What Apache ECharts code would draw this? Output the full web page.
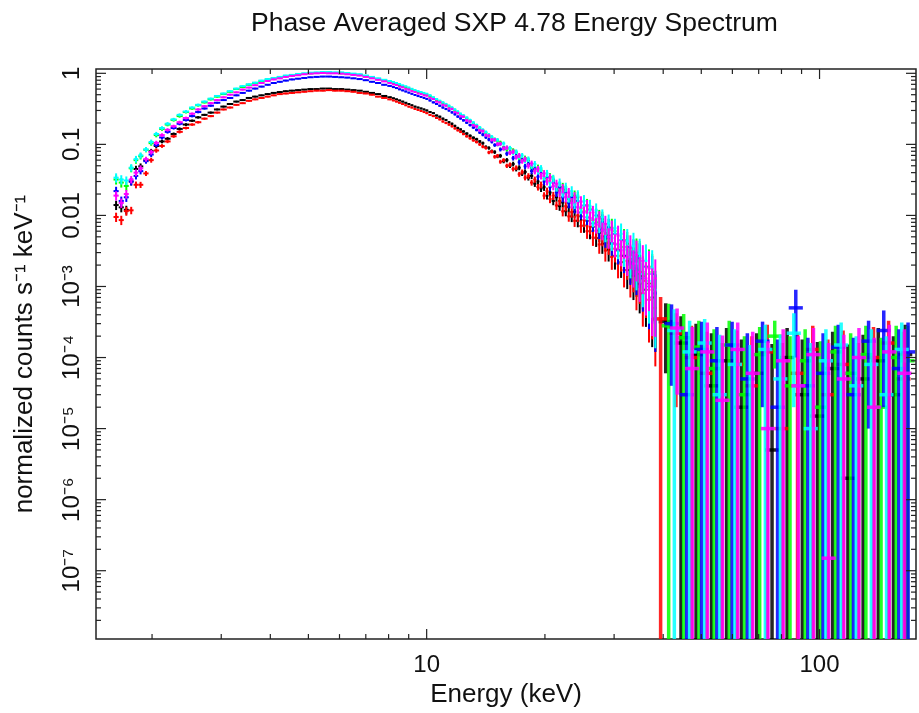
<!DOCTYPE html>
<html>
<head>
<meta charset="utf-8">
<script src="https://cdn.jsdelivr.net/npm/echarts@6/dist/echarts.min.js"></script>
<style>
html, body { margin: 0; padding: 0; background: #fff; }
#main { width: 919px; height: 713px; }
</style>
</head>
<body>
<div id="main"></div>
<script>
// bin centres (keV) for the bright part of the spectrum, shared by all six data groups
var energy = [1.62, 1.67, 1.72, 1.77, 1.82, 1.87, 1.93, 1.99, 2.05, 2.12,
  2.19, 2.27, 2.35, 2.44, 2.53, 2.62, 2.72, 2.82, 2.93, 3.04,
  3.16, 3.28, 3.40, 3.53, 3.66, 3.80, 3.94, 4.08, 4.23, 4.38,
  4.54, 4.71, 4.88, 5.06, 5.25, 5.44, 5.64, 5.85, 6.06, 6.28,
  6.51, 6.75, 7.00, 7.26, 7.52, 7.80,
  8.08, 8.23, 8.38, 8.53, 8.69, 8.85, 9.01, 9.17, 9.34, 9.51,
  9.68, 9.85, 10.0, 10.2, 10.4, 10.6, 10.8, 11.0, 11.2, 11.4,
  11.6, 11.8, 12.0, 12.2, 12.4, 12.65, 12.9, 13.15, 13.4, 13.65,
  13.9, 14.15, 14.4, 14.65, 14.9, 15.15, 15.4, 15.7, 16.0, 16.3,
  16.6, 16.9, 17.2, 17.5, 17.8, 18.15, 18.5, 18.85, 19.2, 19.55,
  19.9, 20.25, 20.6, 21.0, 21.4, 21.8, 22.2, 22.6, 23.0, 23.4,
  23.8, 24.25, 24.7, 25.15, 25.6, 26.05, 26.5, 27.0, 27.5, 28.0,
  28.5, 29.05, 29.6, 30.15, 30.7, 31.25, 31.8, 32.4, 33.0, 33.6,
  34.2, 34.85, 35.5, 36.15, 36.8, 37.5, 38.2];

// fractional 1-sigma error per bin
var relErr = [0.15, 0.15, 0.14, 0.12, 0.11, 0.10, 0.08, 0.08, 0.07, 0.06,
  0.055, 0.05, 0.05, 0.045, 0.04, 0.04, 0.035, 0.035, 0.03, 0.03,
  0.03, 0.028, 0.028, 0.026, 0.026, 0.025, 0.025, 0.025, 0.025, 0.025,
  0.025, 0.02, 0.02, 0.02, 0.02, 0.02, 0.02, 0.02, 0.02, 0.02,
  0.02, 0.02, 0.02, 0.02, 0.02, 0.02,
  0.026, 0.026, 0.026, 0.026, 0.026, 0.026, 0.026, 0.026, 0.026, 0.026,
  0.028, 0.028, 0.03, 0.03, 0.032, 0.032, 0.034, 0.034, 0.036, 0.036,
  0.038, 0.038, 0.04, 0.04, 0.042, 0.042, 0.045, 0.045, 0.048, 0.048,
  0.052, 0.052, 0.056, 0.056, 0.06, 0.06, 0.065, 0.065, 0.07, 0.07,
  0.075, 0.075, 0.08, 0.08, 0.085, 0.09, 0.095, 0.1, 0.105, 0.11,
  0.115, 0.12, 0.125, 0.13, 0.135, 0.14, 0.15, 0.155, 0.16, 0.17,
  0.18, 0.19, 0.2, 0.21, 0.22, 0.23, 0.24, 0.25, 0.26, 0.28,
  0.3, 0.32, 0.34, 0.36, 0.38, 0.4, 0.43, 0.46, 0.5, 0.54,
  0.58, 0.62, 0.66, 0.7, 0.75, 0.8, 0.85];

var blackVals = [0.014, 0.013, 0.012, 0.030, 0.045, 0.049, 0.060, 0.080, 0.095, 0.11,
  0.12, 0.14, 0.165, 0.19, 0.215, 0.24, 0.26, 0.28, 0.31, 0.34,
  0.37, 0.40, 0.42, 0.45, 0.47, 0.49, 0.51, 0.53, 0.545, 0.56,
  0.57, 0.58, 0.59, 0.60, 0.60, 0.61, 0.61, 0.60, 0.60, 0.59,
  0.58, 0.57, 0.55, 0.53, 0.51, 0.48,
  0.46, 0.445, 0.43, 0.415, 0.40, 0.385, 0.37, 0.355, 0.34, 0.33,
  0.32, 0.31, 0.30, 0.285, 0.275, 0.255, 0.245, 0.23, 0.22, 0.205,
  0.195, 0.182, 0.17, 0.162, 0.152, 0.142, 0.132, 0.124, 0.118, 0.11,
  0.104, 0.092, 0.089, 0.080, 0.078, 0.068, 0.069, 0.058, 0.060, 0.050,
  0.053, 0.045, 0.047, 0.039, 0.041, 0.034, 0.036, 0.028, 0.030, 0.024,
  0.025, 0.019, 0.021, 0.016, 0.018, 0.0135, 0.0152, 0.0115, 0.0131, 0.0097,
  0.0113, 0.0084, 0.0097, 0.0072, 0.0084, 0.0060, 0.0069, 0.0048, 0.0057, 0.0040,
  0.0047, 0.0033, 0.0040, 0.0027, 0.0032, 0.0022, 0.0027, 0.0017, 0.0022, 0.0014,
  0.0017, 0.0011, 0.0014, 0.0009, 0.0011, 0.0007, 0.0008];

var redVals = [0.0095, 0.0086, 0.0115, 0.0118, 0.027, 0.027, 0.039, 0.060, 0.082, 0.095,
  0.11, 0.13, 0.15, 0.17, 0.19, 0.205, 0.23, 0.25, 0.28, 0.31,
  0.33, 0.36, 0.38, 0.41, 0.43, 0.45, 0.47, 0.49, 0.51, 0.52,
  0.53, 0.54, 0.55, 0.56, 0.57, 0.57, 0.58, 0.57, 0.57, 0.56,
  0.55, 0.53, 0.52, 0.50, 0.47, 0.45,
  0.43, 0.415, 0.40, 0.385, 0.37, 0.355, 0.34, 0.33, 0.315, 0.305,
  0.295, 0.285, 0.275, 0.26, 0.25, 0.235, 0.225, 0.21, 0.20, 0.19,
  0.18, 0.168, 0.158, 0.15, 0.14, 0.13, 0.122, 0.114, 0.108, 0.10,
  0.093, 0.089, 0.077, 0.079, 0.067, 0.069, 0.057, 0.060, 0.050, 0.052,
  0.045, 0.047, 0.038, 0.041, 0.034, 0.036, 0.029, 0.032, 0.025, 0.027,
  0.019, 0.022, 0.017, 0.019, 0.0138, 0.0160, 0.0114, 0.0135, 0.0097, 0.0112,
  0.0084, 0.0100, 0.0071, 0.0086, 0.0060, 0.0070, 0.0049, 0.0061, 0.0039, 0.0051,
  0.0032, 0.0041, 0.0026, 0.0034, 0.0021, 0.0027, 0.0017, 0.0023, 0.0014, 0.0018,
  0.0011, 0.0015, 0.0008, 0.0012, 0.00065, 0.0009, 0.0005];

var greenVals = [0.032, 0.029, 0.026, 0.046, 0.060, 0.068, 0.084, 0.104, 0.135, 0.165,
  0.19, 0.22, 0.25, 0.285, 0.32, 0.355, 0.39, 0.43, 0.47, 0.51,
  0.55, 0.60, 0.64, 0.69, 0.73, 0.77, 0.81, 0.85, 0.88, 0.91,
  0.94, 0.96, 0.98, 1.0, 1.01, 1.02, 1.02, 1.01, 1.0, 0.99,
  0.97, 0.95, 0.91, 0.87, 0.83, 0.79,
  0.76, 0.73, 0.71, 0.68, 0.655, 0.635, 0.61, 0.59, 0.565, 0.545,
  0.53, 0.515, 0.50, 0.475, 0.45, 0.42, 0.40, 0.38, 0.36, 0.34,
  0.322, 0.30, 0.282, 0.265, 0.25, 0.23, 0.213, 0.198, 0.182, 0.168,
  0.156, 0.145, 0.133, 0.125, 0.117, 0.113, 0.106, 0.090, 0.085, 0.088,
  0.082, 0.077, 0.064, 0.060, 0.064, 0.060, 0.047, 0.044, 0.047, 0.043,
  0.033, 0.031, 0.035, 0.032, 0.024, 0.022, 0.025, 0.023, 0.017, 0.016,
  0.019, 0.018, 0.0125, 0.0115, 0.014, 0.0125, 0.0086, 0.0080, 0.0095, 0.0088,
  0.0058, 0.0053, 0.0067, 0.0060, 0.0039, 0.0036, 0.0045, 0.0040, 0.0025, 0.0023,
  0.0030, 0.0027, 0.0016, 0.0015, 0.0019, 0.0016, 0.0009];

var blueVals = [0.022, 0.016, 0.018, 0.030, 0.036, 0.042, 0.058, 0.072, 0.098, 0.125,
  0.15, 0.17, 0.195, 0.22, 0.25, 0.285, 0.32, 0.35, 0.385, 0.42,
  0.45, 0.49, 0.53, 0.57, 0.61, 0.65, 0.69, 0.73, 0.76, 0.79,
  0.82, 0.84, 0.86, 0.88, 0.89, 0.90, 0.90, 0.89, 0.88, 0.87,
  0.85, 0.83, 0.80, 0.76, 0.73, 0.69,
  0.665, 0.64, 0.62, 0.595, 0.575, 0.555, 0.535, 0.515, 0.495, 0.478,
  0.465, 0.45, 0.437, 0.415, 0.39, 0.37, 0.35, 0.33, 0.315, 0.30,
  0.282, 0.265, 0.246, 0.232, 0.218, 0.202, 0.187, 0.173, 0.16, 0.147,
  0.137, 0.126, 0.117, 0.109, 0.098, 0.100, 0.085, 0.088, 0.074, 0.077,
  0.064, 0.068, 0.056, 0.060, 0.049, 0.053, 0.042, 0.045, 0.035, 0.039,
  0.030, 0.034, 0.025, 0.029, 0.021, 0.025, 0.018, 0.021, 0.015, 0.018,
  0.013, 0.016, 0.011, 0.0138, 0.0094, 0.0120, 0.0077, 0.0100, 0.0063, 0.0081,
  0.0050, 0.0068, 0.0041, 0.0055, 0.0033, 0.0045, 0.0027, 0.0036, 0.0021, 0.0030,
  0.0018, 0.0025, 0.0013, 0.0019, 0.0010, 0.0015, 0.0008];

var cyanVals = [0.034, 0.032, 0.031, 0.047, 0.062, 0.070, 0.085, 0.108, 0.14, 0.17,
  0.195, 0.225, 0.26, 0.29, 0.33, 0.36, 0.40, 0.44, 0.48, 0.52,
  0.56, 0.61, 0.66, 0.70, 0.74, 0.79, 0.83, 0.86, 0.89, 0.93,
  0.95, 0.98, 1.0, 1.02, 1.03, 1.04, 1.04, 1.03, 1.03, 1.01,
  0.99, 0.97, 0.93, 0.89, 0.85, 0.81,
  0.78, 0.755, 0.73, 0.705, 0.675, 0.655, 0.63, 0.605, 0.58, 0.56,
  0.545, 0.53, 0.515, 0.49, 0.46, 0.435, 0.41, 0.39, 0.37, 0.35,
  0.33, 0.31, 0.29, 0.27, 0.255, 0.238, 0.22, 0.203, 0.187, 0.173,
  0.16, 0.149, 0.137, 0.128, 0.118, 0.116, 0.101, 0.103, 0.090, 0.089,
  0.076, 0.079, 0.067, 0.070, 0.059, 0.062, 0.050, 0.053, 0.042, 0.046,
  0.035, 0.039, 0.029, 0.033, 0.025, 0.029, 0.021, 0.025, 0.018, 0.022,
  0.015, 0.019, 0.013, 0.016, 0.011, 0.0135, 0.0090, 0.0118, 0.0076, 0.0095,
  0.0060, 0.0078, 0.0048, 0.0066, 0.0039, 0.0055, 0.0033, 0.0044, 0.0026, 0.0037,
  0.0021, 0.0029, 0.0015, 0.0023, 0.0012, 0.0018, 0.0009];

var magentaVals = [0.019, 0.015, 0.020, 0.032, 0.040, 0.046, 0.062, 0.078, 0.105, 0.135,
  0.160, 0.180, 0.205, 0.235, 0.27, 0.31, 0.345, 0.38, 0.42, 0.46,
  0.50, 0.54, 0.59, 0.63, 0.68, 0.73, 0.78, 0.82, 0.85, 0.89,
  0.92, 0.94, 0.97, 0.99, 1.0, 1.01, 1.0, 1.0, 0.99, 0.97,
  0.95, 0.93, 0.89, 0.85, 0.81, 0.77,
  0.73, 0.70, 0.685, 0.65, 0.635, 0.605, 0.59, 0.56, 0.545, 0.52,
  0.51, 0.49, 0.485, 0.45, 0.435, 0.40, 0.39, 0.36, 0.35, 0.32,
  0.315, 0.285, 0.275, 0.25, 0.245, 0.218, 0.21, 0.186, 0.179, 0.158,
  0.154, 0.135, 0.132, 0.116, 0.116, 0.101, 0.102, 0.088, 0.090, 0.076,
  0.079, 0.066, 0.070, 0.058, 0.062, 0.050, 0.054, 0.042, 0.045, 0.036,
  0.039, 0.030, 0.034, 0.026, 0.028, 0.021, 0.024, 0.018, 0.021, 0.015,
  0.018, 0.013, 0.0155, 0.011, 0.0135, 0.0092, 0.011, 0.0074, 0.0091, 0.0062,
  0.0076, 0.0050, 0.0063, 0.0040, 0.0052, 0.0032, 0.0043, 0.0026, 0.0035, 0.0021,
  0.0028, 0.0016, 0.0023, 0.0013, 0.0018, 0.0010, 0.0013];

// background-dominated high-energy bins: centre (keV), value, 1-sigma error
var blackHiE = [40.6, 44.4, 48.5, 53.1, 58.0, 63.3, 69.2, 75.7, 82.7, 90.4, 98.8, 108.0, 118.1, 129.1, 141.1, 154.2, 165.2];
var blackHiVal = [3.2e-4, 1.6e-4, 1.1e-4, 0.4e-4, 0.9e-4, 0.2e-4, 0.6e-4, 0.05e-4, 1.0e-4, 0.3e-4, 0.15e-4, 0.7e-4, 0.02e-4, 0.5e-4, 0.9e-4, 0.3e-4, 1.1e-4];
var blackHiErr = [2.6e-4, 2.2e-4, 1.9e-4, 1.8e-4, 1.7e-4, 1.6e-4, 1.6e-4, 1.5e-4, 1.6e-4, 1.5e-4, 1.5e-4, 1.6e-4, 1.5e-4, 1.6e-4, 1.7e-4, 1.7e-4, 1.8e-4];

var redHiE = [39.4, 43.1, 47.2, 51.6, 56.4, 61.6, 67.3, 73.6, 80.4, 87.9, 96.1, 105.0, 114.8, 125.5, 137.2, 149.9, 163.5];
var redHiVal = [3.5e-4, 2.2e-4, 1.0e-4, 0.6e-4, -0.2e-4, 0.8e-4, 0.4e-4, 1.2e-4, 0.1e-4, 0.6e-4, 1.3e-4, 0.3e-4, 0.8e-4, -0.1e-4, 1.0e-4, 1.6e-4, 0.5e-4];
var redHiErr = [3.6e-4, 2.0e-4, 1.8e-4, 1.7e-4, 1.8e-4, 1.6e-4, 1.6e-4, 1.7e-4, 1.5e-4, 1.6e-4, 1.5e-4, 1.5e-4, 1.6e-4, 1.7e-4, 1.7e-4, 1.7e-4, 1.8e-4];

var greenHiE = [41.3, 45.1, 49.3, 53.9, 58.9, 64.4, 70.4, 76.9, 84.1, 91.9, 100.5, 109.8, 120.0, 131.2, 143.4, 156.7, 167.5];
var greenHiVal = [2.8e-4, 1.9e-4, 1.4e-4, 0.7e-4, 1.5e-4, 0.3e-4, 1.1e-4, 2.0e-4, 0.4e-4, 0.9e-4, 0.2e-4, 1.2e-4, 0.6e-4, 1.1e-4, 0.2e-4, 1.0e-4, 0.9e-4];
var greenHiErr = [2.9e-4, 2.2e-4, 1.9e-4, 1.8e-4, 1.8e-4, 1.7e-4, 1.6e-4, 1.3e-4, 1.6e-4, 1.6e-4, 1.5e-4, 1.6e-4, 1.6e-4, 1.7e-4, 1.7e-4, 1.8e-4, 1.9e-4];

var blueHiE = [42.0, 45.9, 50.1, 54.8, 59.9, 65.5, 71.6, 78.2, 87.0, 93.4, 102.1, 111.6, 122.0, 133.3, 145.7, 159.2, 168.0];
var blueHiVal = [3.0e-4, 0.3e-4, 1.3e-4, 0.9e-4, 1.5e-4, 0.5e-4, 1.7e-4, 0.2e-4, 5.0e-4, 0.4e-4, 0.6e-4, 1.4e-4, 0.3e-4, 1.7e-4, 2.4e-4, 0.7e-4, 1.2e-4];
var blueHiErr = [2.6e-4, 2.0e-4, 1.9e-4, 1.8e-4, 1.7e-4, 1.7e-4, 1.5e-4, 1.6e-4, 4.0e-4, 1.5e-4, 1.6e-4, 1.5e-4, 1.6e-4, 1.6e-4, 2.2e-4, 1.8e-4, 1.9e-4];

var cyanHiE = [42.7, 46.7, 51.0, 55.7, 60.9, 66.6, 72.8, 79.5, 86.0, 95.0, 103.8, 113.5, 124.0, 135.5, 148.1, 161.9];
var cyanHiVal = [2.4e-4, 1.2e-4, 1.6e-4, 0.3e-4, 0.8e-4, -0.3e-4, 1.3e-4, 0.5e-4, 2.2e-4, 0.1e-4, 0.9e-4, 1.5e-4, 0.4e-4, 0.8e-4, 0.3e-4, 1.3e-4];
var cyanHiErr = [2.4e-4, 2.1e-4, 1.9e-4, 1.8e-4, 1.7e-4, 1.8e-4, 1.6e-4, 1.6e-4, 2.0e-4, 1.5e-4, 1.6e-4, 1.6e-4, 1.6e-4, 1.7e-4, 1.7e-4, 1.8e-4];

var magentaHiE = [43.4, 47.4, 51.8, 56.6, 61.9, 67.6, 73.9, 80.8, 88.3, 96.5, 105.5, 115.3, 126.0, 137.7, 150.5, 164.5];
var magentaHiVal = [2.6e-4, 0.7e-4, 1.2e-4, 0.25e-4, 1.3e-4, 0.6e-4, 0.1e-4, 0.9e-4, 0.4e-4, 1.1e-4, 1.5e-7, 0.5e-4, 1.0e-4, 0.2e-4, 1.2e-4, 0.6e-4];
var magentaHiErr = [2.3e-4, 2.0e-4, 1.9e-4, 1.8e-4, 1.8e-4, 1.7e-4, 1.6e-4, 1.6e-4, 1.6e-4, 1.5e-4, 1.6e-4, 1.6e-4, 1.6e-4, 1.7e-4, 1.7e-4, 1.9e-4];

// tick labels
var xTickLabels = { '1': '10', '2': '100' };
var yTickLabels = { '0': '1', '-1': '0.1', '-2': '0.01', '-3': '10⁻³', '-4': '10⁻⁴', '-5': '10⁻⁵', '-6': '10⁻⁶', '-7': '10⁻⁷' };

var X_MIN = 1.44, X_MAX = 176, Y_MIN = 1.09e-8, Y_MAX = 1.15;
var HI_HALF = 0.018; // half width of a high-energy bin, log10 units

var FONT = 'Liberation Sans, Arial, Helvetica, sans-serif';

function lowItems(vals) {
  var out = [];
  var n = Math.min(vals.length, energy.length);
  for (var i = 0; i < n; i++) {
    var e = energy[i];
    var lo = i > 0 ? Math.sqrt(energy[i - 1] * e) : e * e / Math.sqrt(e * energy[i + 1]);
    var hi = i < energy.length - 1 ? Math.sqrt(e * energy[i + 1]) : e * e / Math.sqrt(energy[i - 1] * e);
    var d = vals[i] * relErr[i];
    out.push([e, vals[i], vals[i] - d, vals[i] + d, lo, hi, 0]);
  }
  return out;
}

function hiItems(es, vals, errs) {
  var f = Math.pow(10, HI_HALF);
  return es.map(function (e, i) {
    return [e, vals[i], vals[i] - errs[i], vals[i] + errs[i], e / f, e * f, 1];
  });
}

function renderErr(params, api) {
  var cs = params.coordSys;
  var bottom = cs.y + cs.height;
  var e = api.value(0), v = api.value(1), lo = api.value(2), hi = api.value(3);
  var isHi = api.value(6) === 1;
  var style = { stroke: api.visual('color'), lineWidth: isHi ? 3.5 : 2, opacity: isHi ? 0.85 : 1 };
  var kids = [];
  if (hi > 0) {
    var top = api.coord([e, hi]);
    var bot = lo > 0 ? Math.min(api.coord([e, lo])[1], bottom) : bottom;
    kids.push({ type: 'line', shape: { x1: top[0], y1: Math.max(top[1], cs.y), x2: top[0], y2: bot }, style: style });
  }
  if (v > 0) {
    var a = api.coord([api.value(4), v]), b = api.coord([api.value(5), v]);
    if (a[1] < bottom) {
      kids.push({ type: 'line', shape: { x1: a[0], y1: a[1], x2: b[0], y2: b[1] }, style: style });
    }
  }
  return { type: 'group', children: kids };
}

function spectrum(name, color, vals, hiE, hiVal, hiErr) {
  return {
    name: name,
    type: 'custom',
    renderItem: renderErr,
    color: color,
    clip: true,
    silent: true,
    encode: { x: 0, y: 3 },
    data: lowItems(vals).concat(hiItems(hiE, hiVal, hiErr))
  };
}

// tick marks drawn inside the frame on all four sides
var xMajor = [10, 100];
var xTickData = [], yTickData = [];
[1, 10, 100].forEach(function (dec) {
  for (var k = 1; k <= 9; k++) {
    var v = k * dec;
    if (v > X_MIN && v < X_MAX) xTickData.push([v, 1e-3, xMajor.indexOf(v) >= 0 ? 1 : 0]);
  }
});
for (var p = -8; p <= 0; p++) {
  for (var k = 1; k <= 9; k++) {
    var v = k * Math.pow(10, p);
    if (v > Y_MIN && v < Y_MAX) yTickData.push([10, v, k === 1 ? 1 : 0]);
  }
}
var tickStyle = { stroke: '#222', lineWidth: 1.2 };

var option = {
  backgroundColor: '#fff',
  animation: false,
  title: {
    text: 'Phase Averaged SXP 4.78 Energy Spectrum',
    left: 246,
    top: 5,
    textStyle: { fontFamily: FONT, fontSize: 26.5, fontWeight: 'normal', color: '#111' }
  },
  grid: {
    left: 96, right: 2, top: 69, bottom: 64,
    show: true, borderColor: '#222', borderWidth: 1.5, backgroundColor: 'transparent'
  },
  xAxis: {
    type: 'log',
    logBase: 10,
    min: X_MIN,
    max: X_MAX,
    splitNumber: 10,
    name: 'Energy (keV)',
    nameLocation: 'middle',
    nameGap: 41,
    nameTextStyle: { fontFamily: FONT, fontSize: 26, color: '#111' },
    axisLine: { show: false },
    axisTick: { show: false },
    splitLine: { show: false },
    axisLabel: {
      margin: 14,
      fontFamily: FONT, fontSize: 24, color: '#111',
      formatter: function (v) {
        var p = Math.log10(v), r = Math.round(p);
        if (Math.abs(p - r) > 1e-6) return '';
        return xTickLabels[String(r)] || '';
      }
    }
  },
  yAxis: {
    type: 'log',
    logBase: 10,
    min: Y_MIN,
    max: Y_MAX,
    splitNumber: 10,
    name: 'normalized counts s⁻¹ keV⁻¹',
    nameLocation: 'middle',
    nameGap: 58,
    nameTextStyle: { fontFamily: FONT, fontSize: 26, color: '#111' },
    axisLine: { show: false },
    axisTick: { show: false },
    splitLine: { show: false },
    axisLabel: {
      rotate: 90,
      margin: 12,
      fontFamily: FONT, fontSize: 24, color: '#111',
      formatter: function (v) {
        var p = Math.log10(v), r = Math.round(p);
        if (Math.abs(p - r) > 1e-6) return '';
        return yTickLabels[String(r)] || '';
      }
    }
  },
  series: [
    spectrum('black', '#000000', blackVals, blackHiE, blackHiVal, blackHiErr),
    spectrum('red', '#ff0000', redVals, redHiE, redHiVal, redHiErr),
    spectrum('green', '#00ff00', greenVals, greenHiE, greenHiVal, greenHiErr),
    spectrum('blue', '#0000ff', blueVals, blueHiE, blueHiVal, blueHiErr),
    spectrum('cyan', '#00ffff', cyanVals, cyanHiE, cyanHiVal, cyanHiErr),
    spectrum('magenta', '#ff00ff', magentaVals, magentaHiE, magentaHiVal, magentaHiErr),
    {
      type: 'custom',
      silent: true,
      clip: false,
      encode: { x: 0, y: 1 },
      data: xTickData,
      renderItem: function (params, api) {
        var cs = params.coordSys;
        var x = api.coord([api.value(0), 1e-3])[0];
        var len = api.value(2) ? 10 : 5;
        return { type: 'group', children: [
          { type: 'line', shape: { x1: x, y1: cs.y + cs.height, x2: x, y2: cs.y + cs.height - len }, style: tickStyle },
          { type: 'line', shape: { x1: x, y1: cs.y, x2: x, y2: cs.y + len }, style: tickStyle }
        ] };
      }
    },
    {
      type: 'custom',
      silent: true,
      clip: false,
      encode: { x: 0, y: 1 },
      data: yTickData,
      renderItem: function (params, api) {
        var cs = params.coordSys;
        var y = api.coord([10, api.value(1)])[1];
        var len = api.value(2) ? 10 : 5;
        return { type: 'group', children: [
          { type: 'line', shape: { x1: cs.x, y1: y, x2: cs.x + len, y2: y }, style: tickStyle },
          { type: 'line', shape: { x1: cs.x + cs.width, y1: y, x2: cs.x + cs.width - len, y2: y }, style: tickStyle }
        ] };
      }
    }
  ]
};

var chart = echarts.init(document.getElementById('main'));
chart.setOption(option);
</script>
</body>
</html>
